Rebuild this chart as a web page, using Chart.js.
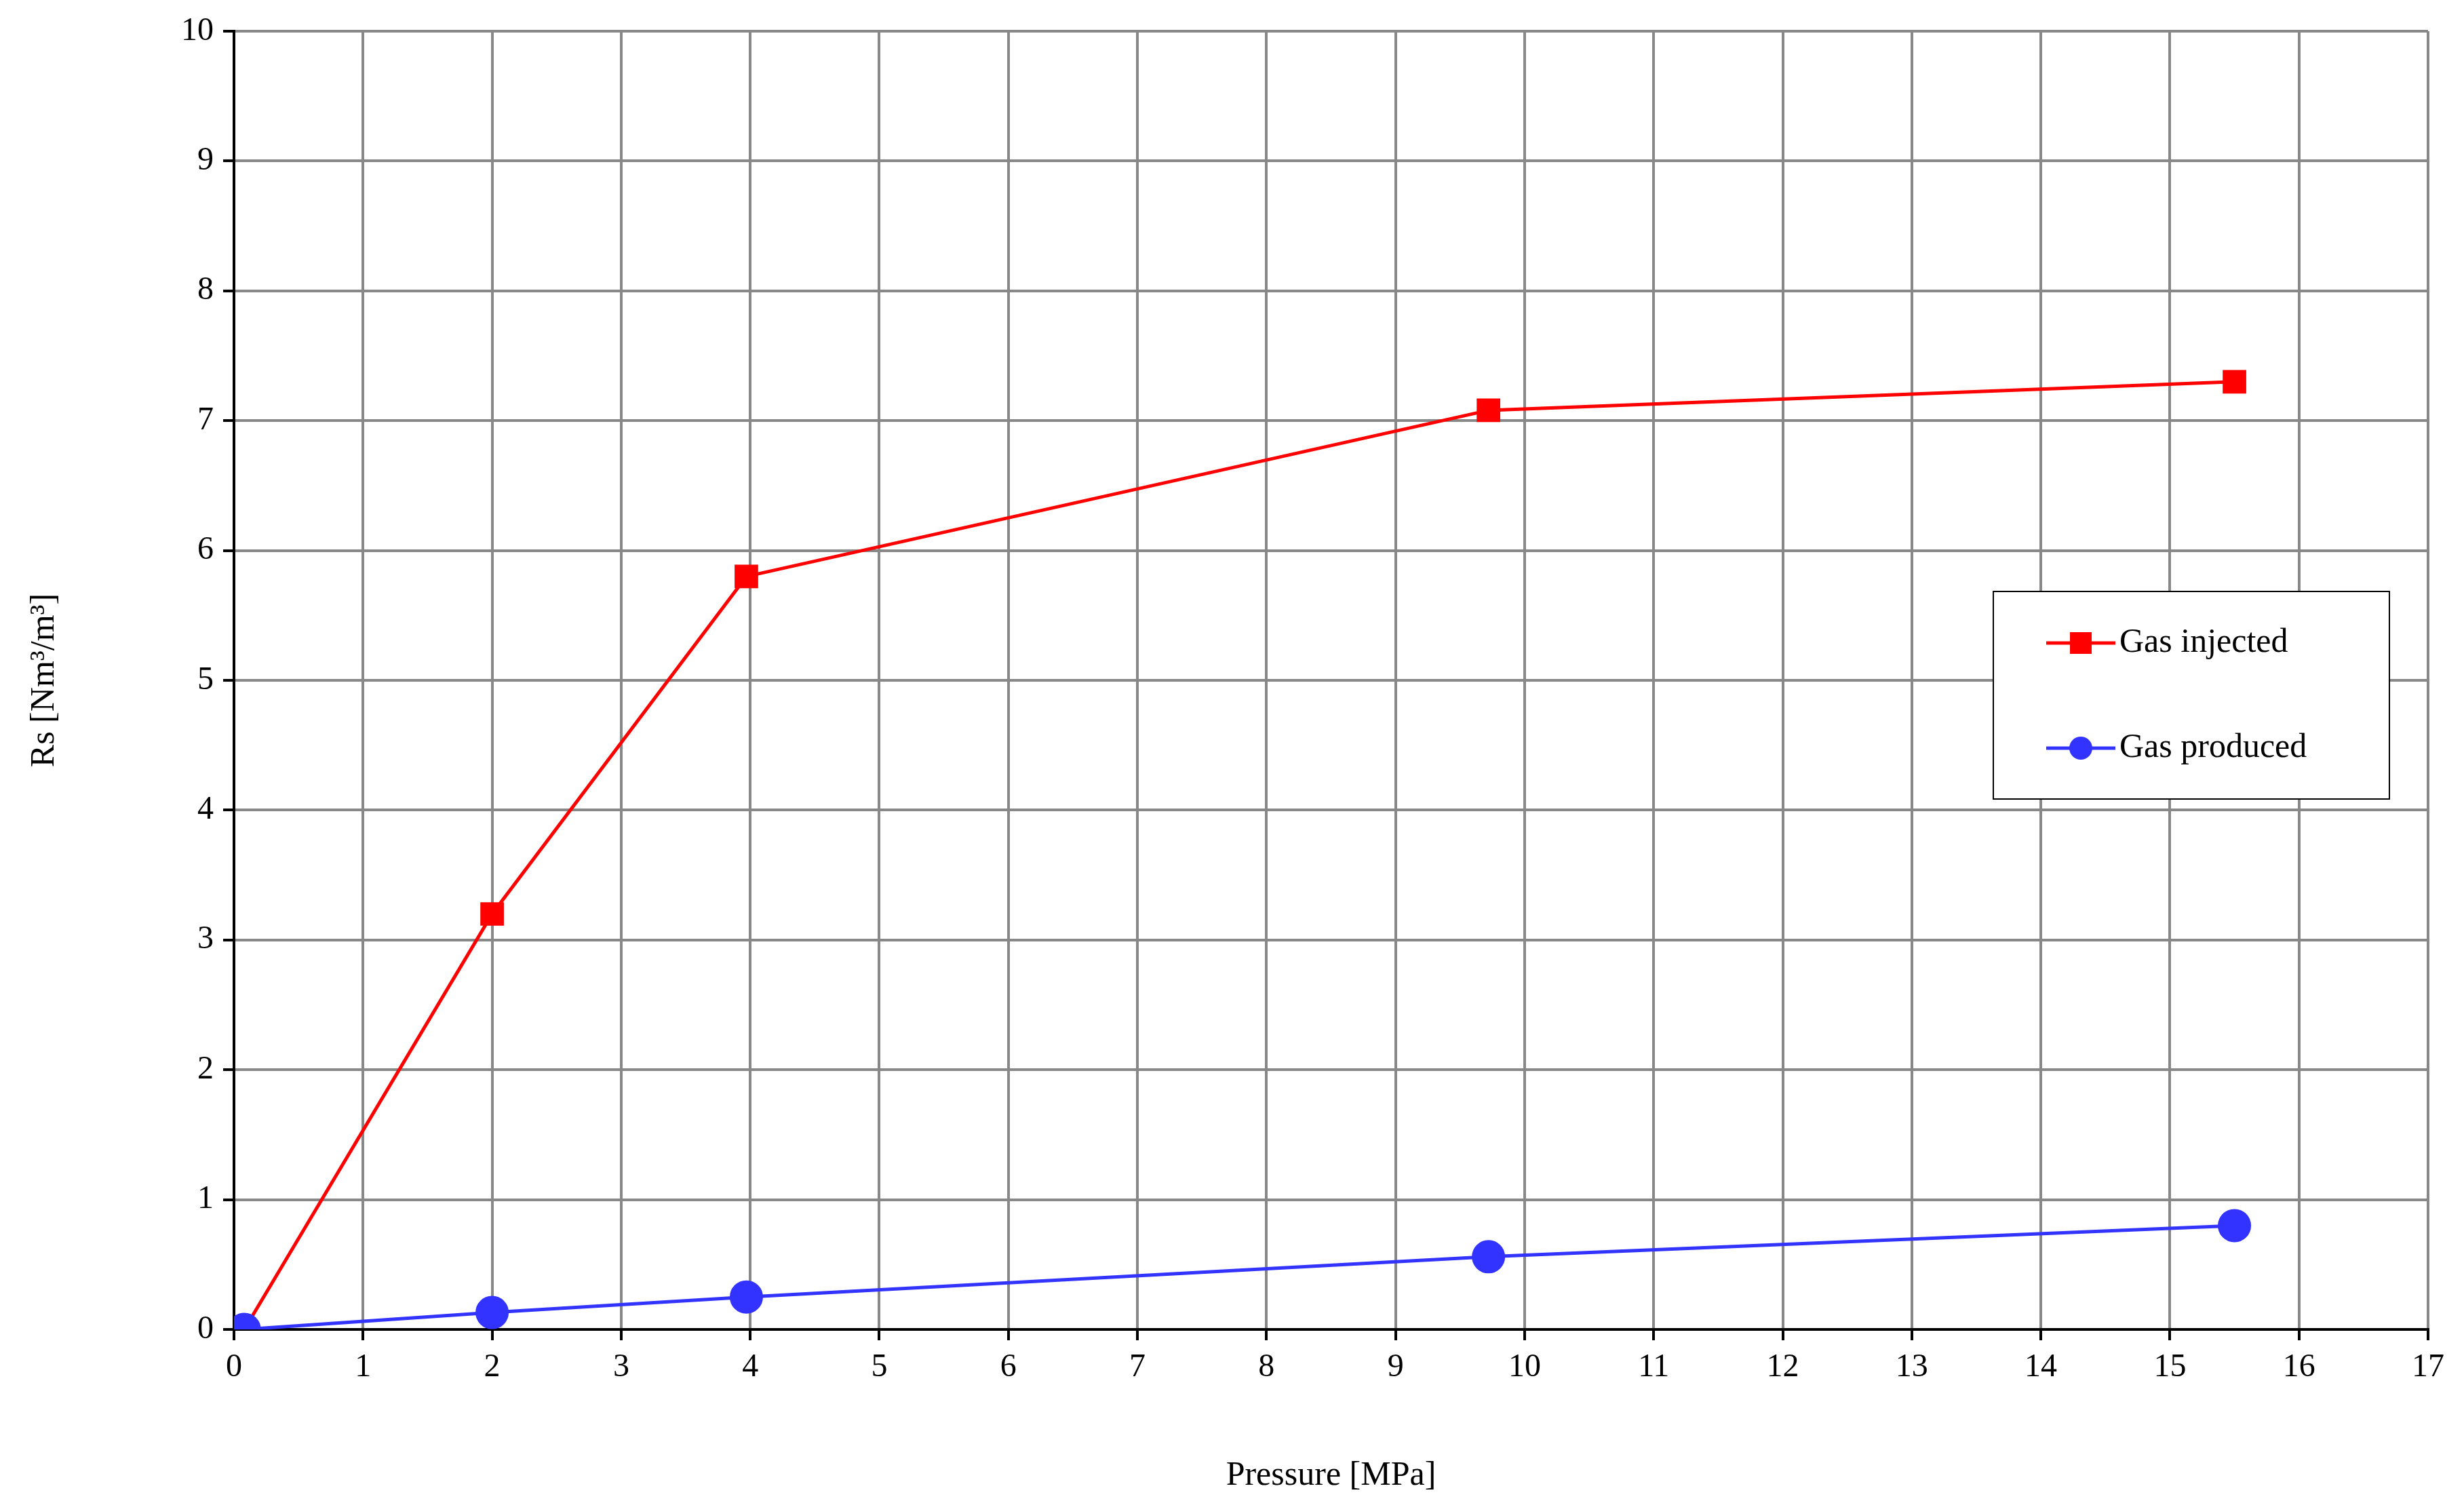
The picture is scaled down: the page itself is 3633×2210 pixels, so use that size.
<!DOCTYPE html>
<html><head><meta charset="utf-8">
<script src="https://cdn.jsdelivr.net/npm/chart.js@4"></script>
<style>html,body{margin:0;padding:0;background:#fff}#w{width:3633px;height:2210px}</style>
</head><body><div id="w"><canvas id="c"></canvas></div>
<script>
const pressure = [0.08, 2, 3.97, 9.72, 15.5];
const gasInjected = [0, 3.2, 5.8, 7.08, 7.3];
const gasProduced = [0, 0.13, 0.25, 0.56, 0.8];
const seriesNames = ['Gas injected', 'Gas produced'];
const xTitle = 'Pressure [MPa]';
const yTitle = 'Rs [Nm³/m³]';
const FONT = "'Liberation Serif', 'DejaVu Serif', serif";

const legendBox = {
  id: 'legendBox',
  afterDraw(chart) {
    const ctx = chart.ctx;
    const x0 = 2939, y0 = 872, w = 584, h = 306;
    ctx.save();
    ctx.fillStyle = '#fff'; ctx.fillRect(x0, y0, w, h);
    ctx.strokeStyle = '#000'; ctx.lineWidth = 2; ctx.strokeRect(x0, y0, w, h);
    chart.data.datasets.forEach((ds, i) => {
      const y = y0 + 76 + i * 155;
      ctx.strokeStyle = ds.borderColor; ctx.lineWidth = 5;
      ctx.beginPath(); ctx.moveTo(x0 + 78, y); ctx.lineTo(x0 + 180, y); ctx.stroke();
      ctx.fillStyle = ds.backgroundColor;
      if (ds.pointStyle === 'rect') ctx.fillRect(x0 + 113, y - 16, 32, 32);
      else { ctx.beginPath(); ctx.arc(x0 + 129, y, 17, 0, Math.PI * 2); ctx.fill(); }
      ctx.fillStyle = '#000'; ctx.font = '50px ' + FONT; ctx.textBaseline = 'middle';
      ctx.fillText(ds.label, x0 + 186, y);
    });
    ctx.restore();
  }
};

new Chart(document.getElementById('c'), {
  type: 'scatter',
  data: {
    datasets: [
      { label: seriesNames[0], data: pressure.map((p, i) => ({x: p, y: gasInjected[i]})), order: 1,
        showLine: true, borderColor: '#ff0000', backgroundColor: '#ff0000', borderWidth: 5,
        pointStyle: 'rect', pointRadius: 21, pointHoverRadius: 21 },
      { label: seriesNames[1], data: pressure.map((p, i) => ({x: p, y: gasProduced[i]})), order: 0,
        showLine: true, borderColor: '#3333ff', backgroundColor: '#3333ff', borderWidth: 5,
        pointStyle: 'circle', pointRadius: 22, pointHoverRadius: 22 }
    ]
  },
  options: {
    responsive: true, maintainAspectRatio: false, animation: false,
    layout: { padding: { left: 0, top: 46, right: 53, bottom: 0 } },
    plugins: { legend: { display: false }, tooltip: { enabled: false } },
    scales: {
      x: { type: 'linear', min: 0, max: 17,
        ticks: { stepSize: 1, color: '#000', font: { family: FONT, size: 48 }, padding: 12 },
        grid: { color: '#888', lineWidth: 4, tickLength: 16, tickColor: '#000' },
        border: { color: '#000', width: 4 },
        title: { display: true, text: xTitle, color: '#000', font: { family: FONT, size: 50 }, padding: { top: 40 } },
        afterFit: s => { s.height = 250; } },
      y: { min: 0, max: 10,
        ticks: { stepSize: 1, color: '#000', font: { family: FONT, size: 48 }, padding: 14 },
        grid: { color: '#888', lineWidth: 4, tickLength: 16, tickColor: '#000' },
        border: { color: '#000', width: 4 },
        title: { display: true, text: yTitle, color: '#000', font: { family: FONT, size: 50 }, padding: { top: 36, bottom: 0 } },
        afterFit: s => { s.width = 345; } }
    }
  },
  plugins: [legendBox]
});
</script></body></html>
